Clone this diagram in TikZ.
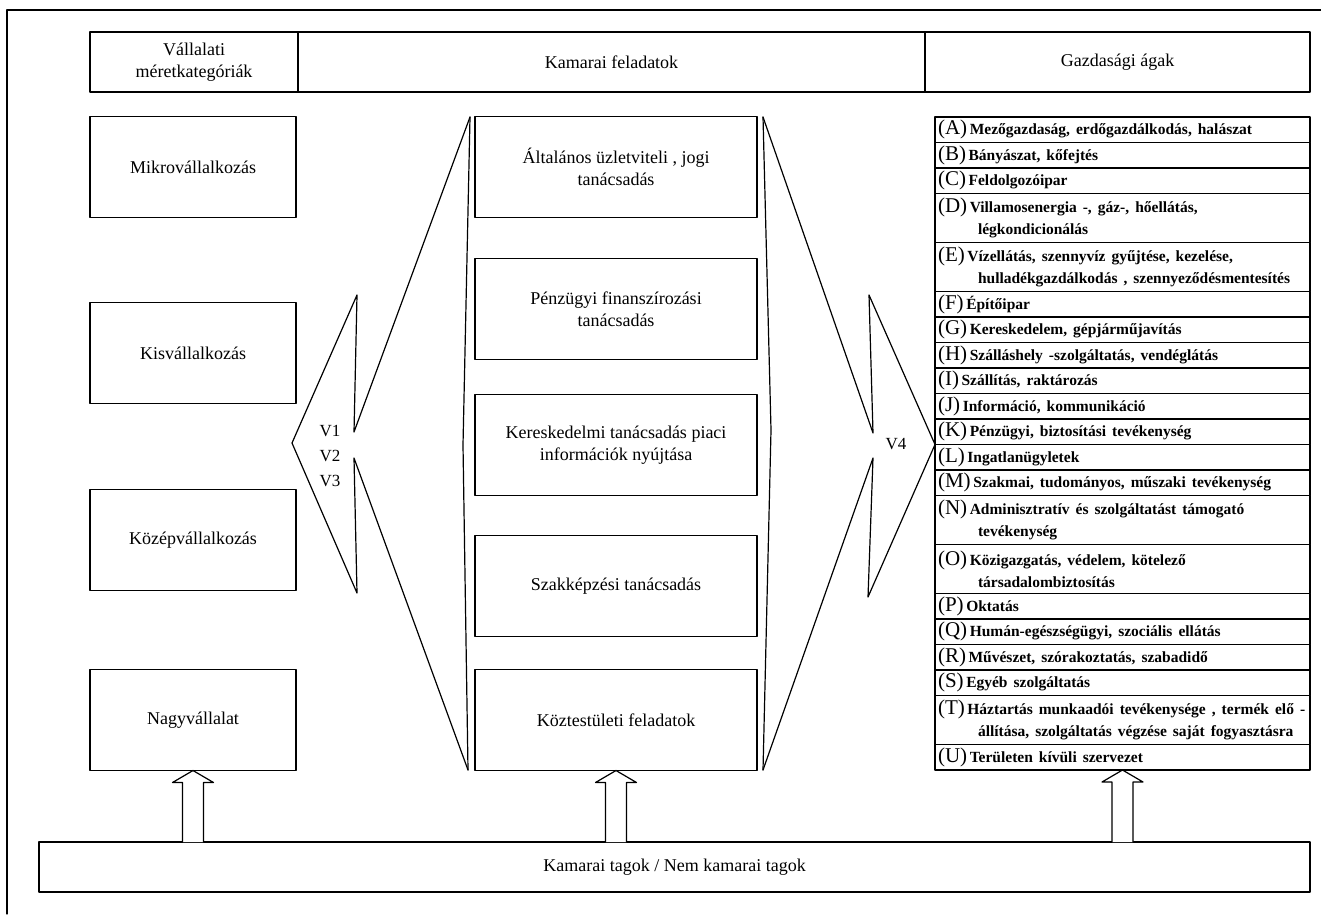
\documentclass[tikz,border=0pt]{standalone}
\usepackage{fontspec}
\setmainfont{Liberation Serif}
\usetikzlibrary{positioning,calc}

\begin{document}
\begin{tikzpicture}[x=1pt, y=-1pt, line join=round, line cap=round,
    font=\fontsize{18}{22}\selectfont,
    every node/.style={inner sep=0pt, outer sep=0pt},
    cell/.style={draw, line width=1.2pt, minimum height=60pt, align=center},
    box/.style={draw, line width=1.2pt, minimum height=101pt, align=center},
    kbox/.style={box, minimum width=206pt},
    fbox/.style={box, minimum width=282pt},
    row/.style={draw, line width=1.2pt, minimum width=375pt, text width=369pt, anchor=north},
    edge/.style={line width=1.2pt},
    blockarrow/.style={line width=1.2pt, fill=white}]
  \useasboundingbox (0,0) rectangle (1321,914);
  \def\ltr#1{{\fontsize{21}{22}\selectfont\mdseries(#1)}}
  \def\blockup#1#2{\draw[blockarrow] let \p1=(#1), \p2=(#2) in
    (\x1-10.5pt,\y1) -- (\x1-10.5pt,\y2-12pt) -- (\x1-20.5pt,\y2-12pt) -- (\x2,\y2)
    -- (\x1+20.5pt,\y2-12pt) -- (\x1+10.5pt,\y2-12pt) -- (\x1+10.5pt,\y1);}
  % frame
  \draw[edge] (7,914) -- (7,10) -- (1321,10);
  % header
  \node[cell, minimum width=208pt] (h-meret) at (194,62) {Vállalati\\méretkategóriák};
  \node[cell, minimum width=627pt, right=0pt of h-meret] (h-kamara) {Kamarai feladatok};
  \node[cell, minimum width=385pt, right=0pt of h-kamara] (h-agak) {Gazdasági ágak};
  % company sizes
  \node[kbox] (mikro) at (193,167) {Mikrovállalkozás};
  \node[kbox] (kis)   at (193,353) {Kisvállalkozás};
  \node[kbox] (kozep) at (193,540) {Középvállalkozás};
  \node[kbox] (nagy)  at (193,720) {Nagyvállalat};
  % chamber tasks
  \node[fbox] (altalanos) at (616,167) {Általános üzletviteli , jogi\\tanácsadás};
  \node[fbox] (penzugyi)  at (616,309) {Pénzügyi finanszírozási\\tanácsadás};
  \node[fbox] (keresk)    at (616,445) {Kereskedelmi tanácsadás piaci\\információk nyújtása};
  \node[fbox] (szakkep)   at (616,586) {Szakképzési tanácsadás};
  \node[fbox] (koztest)   at (616,720) {Köztestületi feladatok};
  % economic sectors
  \coordinate (row-top) at (1122.5,117);
  \foreach \ab/\txt/\hh [remember=\ab as \prev (initially top)] in {
      A/{Mezőgazdaság, erdőgazdálkodás, halászat}/25.5,
      B/{Bányászat, kőfejtés}/25.5,
      C/{Feldolgozóipar}/25.5,
      D/{Villamosenergia -, gáz-, hőellátás,\newline légkondicionálás}/49,
      E/{Vízellátás, szennyvíz gyűjtése, kezelése,\newline hulladékgazdálkodás , szennyeződésmentesítés}/49,
      F/{Építőipar}/25.5,
      G/{Kereskedelem, gépjárműjavítás}/25.5,
      H/{Szálláshely -szolgáltatás, vendéglátás}/25.5,
      I/{Szállítás, raktározás}/25.5,
      J/{Információ, kommunikáció}/25.5,
      K/{Pénzügyi, biztosítási tevékenység}/25.5,
      L/{Ingatlanügyletek}/25.5,
      M/{Szakmai, tudományos, műszaki tevékenység}/25.5,
      N/{Adminisztratív és szolgáltatást támogató\newline tevékenység}/49,
      O/{Közigazgatás, védelem, kötelező\newline társadalombiztosítás}/49,
      P/{Oktatás}/25.5,
      Q/{Humán-egészségügyi, szociális ellátás}/25.5,
      R/{Művészet, szórakoztatás, szabadidő}/25.5,
      S/{Egyéb szolgáltatás}/25.5,
      T/{Háztartás munkaadói tevékenysége , termék elő -\newline állítása, szolgáltatás végzése saját fogyasztásra}/49,
      U/{Területen kívüli szervezet}/25.5}
    \node[row, minimum height=\hh pt, below=0pt of row-\prev] (row-\ab)
      {\fontsize{15.5}{22}\selectfont\bfseries\raggedright\hangindent=40pt\hangafter=1\relax
       \ltr{\ab}\,\txt\endgraf};
  % members
  \node[draw, line width=1.2pt, minimum width=1271pt, minimum height=50pt] (tagok) at (674.5,867)
    {Kamarai tagok / Nem kamarai tagok};
  % callouts
  \coordinate (col-nw) at (470,117); \coordinate (col-w) at (463,445); \coordinate (col-sw) at (468,770);
  \coordinate (col-ne) at (763,117); \coordinate (col-e) at (771,430); \coordinate (col-se) at (763,770);
  \draw[edge] (col-nw) -- (col-w) -- (col-sw);
  \draw[edge] (col-ne) -- (col-e) -- (col-se);
  \coordinate (cl1) at (354,432); \coordinate (cl2) at (357,295); \coordinate (cl-tip) at (292,443);
  \coordinate (cl3) at (357,593); \coordinate (cl4) at (354,458);
  \draw[edge] (col-nw) -- (cl1) -- (cl2) -- (cl-tip) -- (cl3) -- (cl4) -- (col-sw);
  \coordinate (cr1) at (873,433); \coordinate (cr2) at (869,295); \coordinate (cr-tip) at (row-K.south west);
  \coordinate (cr3) at (868,597); \coordinate (cr4) at (873,458);
  \draw[edge] (col-ne) -- (cr1) -- (cr2) -- (cr-tip) -- (cr3) -- (cr4) -- (col-se);
  \node[align=center, font=\fontsize{17}{25}\selectfont] (v123) at (330,456) {V1\\V2\\V3};
  \node[font=\fontsize{17}{25}\selectfont] (v4) at (896,444) {V4};
  % member arrows
  \blockup{tagok.north -| nagy.south}{nagy.south}
  \blockup{tagok.north -| koztest.south}{koztest.south}
  \blockup{tagok.north -| row-U.south}{row-U.south}
\end{tikzpicture}
\end{document}
